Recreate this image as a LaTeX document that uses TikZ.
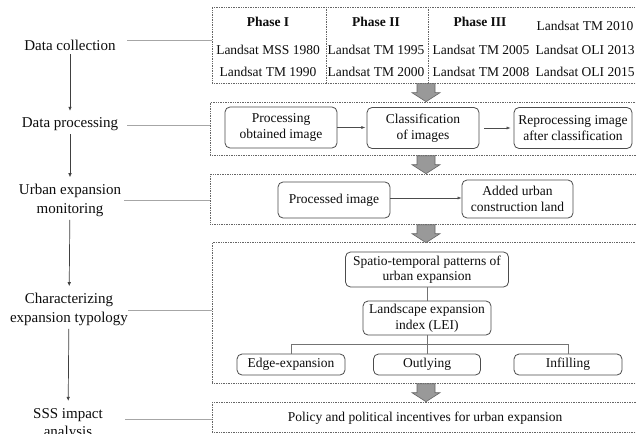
\documentclass[tikz,border=0pt]{standalone}
\usepackage{fontspec}
\setmainfont{Liberation Serif}
\usetikzlibrary{arrows.meta,calc}

\newcommand\boxfont{\fontsize{13.5}{15.5}\selectfont}
\newcommand\labfont{\fontsize{15}{18.5}\selectfont}

\begin{document}
\begin{tikzpicture}[x=1pt,y=-1pt,
  panel/.style={draw=black!60, densely dotted, line width=0.7pt, anchor=north west, inner sep=0},
  stepbox/.style={draw=black!70, rounded corners=5pt, line width=0.8pt, align=center,
    font=\boxfont, inner sep=0, text=black!95},
  cell/.style={font=\boxfont, inner sep=0, text=black!95},
  phase/.style={font=\boxfont\bfseries, inner sep=0, text=black!95},
  stage/.style={font=\labfont, align=center, inner sep=0, text=black!95},
  link/.style={draw=black!35, line width=0.7pt},
  flow/.style={draw=black!75, line width=0.7pt, -{Latex[length=4pt,width=3.5pt]},
    shorten <=3pt, shorten >=7pt},
  inarrow/.style={draw=black!70, line width=0.6pt, -{Latex[length=4pt,width=3pt]}},
  tree/.style={draw=black!55, line width=0.6pt},
  fat/.style={fill=black!40, draw=black!60, line width=0.6pt}]

\clip (0,0) rectangle (636,433);
\fill[white] (0,0) rectangle (636,433);

% ---- panels on the right ----
\node[panel, minimum width=440, minimum height=76] (p1) at (212,7) {};
\node[panel, minimum width=440, minimum height=53] (p2) at (210,102) {};
\node[panel, minimum width=440, minimum height=50] (p3) at (210,174) {};
\node[panel, minimum width=440, minimum height=141] (p4) at (212,242) {};
\node[panel, minimum width=440, minimum height=30] (p5) at (212,402) {};

% column separators of the data table
\draw[black!60, densely dotted, line width=0.7pt] (326,7) -- (326,83);
\draw[black!60, densely dotted, line width=0.7pt] (428,7) -- (428,83);

% ---- data table ----
\node[phase] (h1) at (268,22) {Phase I};
\node[cell]  (a1) at (268,50) {Landsat MSS 1980};
\node[cell]  (b1) at (268,72) {Landsat TM 1990};
\node[phase] (h2) at (376,22) {Phase II};
\node[cell]  (a2) at (376,50) {Landsat TM 1995};
\node[cell]  (b2) at (376,72) {Landsat TM 2000};
\node[phase] (h3) at (480,22) {Phase III};
\node[cell]  (a3) at (481,50) {Landsat TM 2005};
\node[cell]  (b3) at (481,72) {Landsat TM 2008};
\node[cell]  (c4) at (585,26) {Landsat TM 2010};
\node[cell]  (a4) at (585,50) {Landsat OLI 2013};
\node[cell]  (b4) at (585,72) {Landsat OLI 2015};

% ---- data processing ----
\node[stepbox, minimum width=112, minimum height=41] (proc) at (281,127.5) {Processing\\obtained image};
\node[stepbox, minimum width=112, minimum height=41] (clas) at (423,128) {Classification\\of images};
\node[stepbox, minimum width=118, minimum height=41] (repr) at (573,128) {Reprocessing image\\after classification};
\draw[inarrow] (proc.east) -- ++(28,0);
\draw[inarrow] ($(clas.east)+(5,0)$) -- ($(repr.west)+(-3,0)$);

% ---- urban expansion monitoring ----
\node[stepbox, minimum width=112, minimum height=36] (pimg) at (334,200) {Processed image};
\node[stepbox, minimum width=111, minimum height=38] (land) at (517.5,199) {Added urban\\construction land};
\draw[inarrow] (pimg.east |- 0,198) -- (land.west |- 0,198);

% ---- expansion typology ----
\node[stepbox, minimum width=163, minimum height=35] (stp) at (427,269.5) {Spatio-temporal patterns of\\urban expansion};
\node[stepbox, minimum width=128, minimum height=34] (lei) at (427,318) {Landscape expansion\\index (LEI)};
\node[stepbox, minimum width=108, minimum height=21] (edge) at (291,364.5) {Edge-expansion};
\node[stepbox, minimum width=107, minimum height=21] (outl) at (427,364.5) {Outlying};
\node[stepbox, minimum width=108, minimum height=21] (infl) at (568,364.5) {Infilling};
\draw[tree] (stp.south) -- (lei.north);
\draw[tree] (lei.south) -- (outl.north);
\draw[tree] (edge.north) -- ++(0,-9) -| (infl.north);

% ---- impact analysis ----
\node[cell] (pol) at (425,418) {Policy and political incentives for urban expansion};

% ---- wide arrows between panels ----
\coordinate (spine) at (426,0);
\foreach \p in {p1,p2,p3,p4} {
  \path[fat] (\p.south -| spine) ++(-9,0) -- ++(18,0) -- ++(0,9) -- ++(5,0)
     -- ++(-14,9) -- ++(-14,-9) -- ++(5,0) -- cycle;
}

% ---- stages on the left ----
\node[stage, anchor=base] (s1) at (70,51) {Data collection};
\node[stage, anchor=base] (s2) at (70,128) {Data processing};
\node[stage] (s3) at (70,200.5) {Urban expansion\\monitoring};
\node[stage] (s4) at (69,309.5) {Characterizing\\expansion typology};
\node[stage] (s5) at (68,424) {SSS impact\\analysis};

\draw[flow] (s1) -- (s2);
\draw[flow] (s2) -- (s3);
\draw[flow] (s3) -- (s4);
\draw[flow] (s4) -- (s5);

% stage-to-panel links
\draw[link] (127,40) -- (p1.west |- 0,40);
\draw[link] (127,125) -- (p2.west |- 0,125);
\draw[link] (124,200) -- (p3.west |- 0,200);
\draw[link] (128,310) -- (p4.west |- 0,310);
\draw[link] (125,419) -- (p5.west |- 0,419);
\end{tikzpicture}
\end{document}
